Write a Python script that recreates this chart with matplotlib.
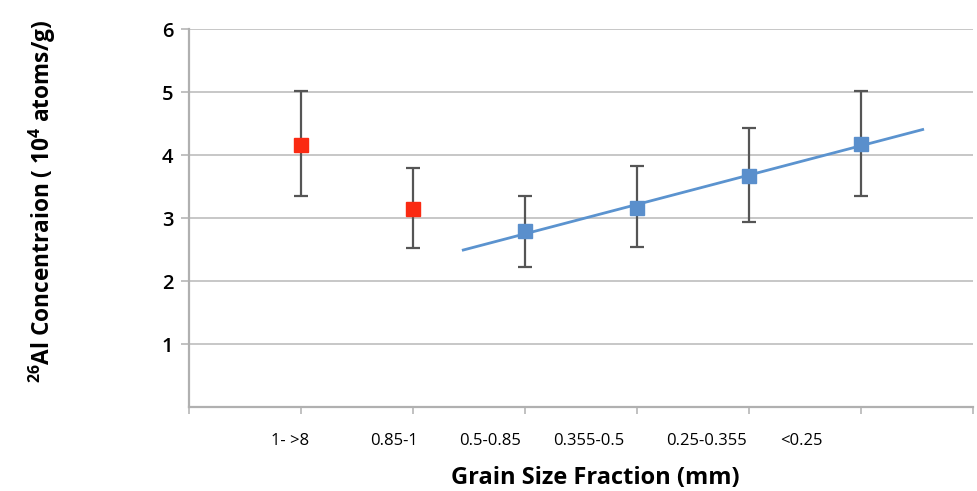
import numpy as np
import matplotlib
matplotlib.use("Agg")
import matplotlib.pyplot as plt

plt.rcParams['font.family'] = ['Open Sans', 'DejaVu Sans']
plt.rcParams['mathtext.default'] = 'regular'

# categories (grain size fractions, mm)
sizeLabels = ["1- >8", "0.85-1", "0.5-0.85", "0.355-0.5", "0.25-0.355", "<0.25"]

# coarse fractions (red)
redX = [1, 2]
redY = [4.16, 3.14]
redLow = [3.35, 2.53]
redHigh = [5.02, 3.80]

# finer fractions (blue)
blueX = [3, 4, 5, 6]
blueY = [2.79, 3.17, 3.67, 4.18]
blueLow = [2.23, 2.55, 2.94, 3.35]
blueHigh = [3.35, 3.83, 4.43, 5.02]

# Excel puts the category text left of the tick, these are the shifts
labelShift = [-0.10, -0.17, -0.31, -0.43, -0.38, -0.53]

fig = plt.figure(figsize=(9.78, 4.91), dpi=100)
ax = fig.add_axes([0.193, 0.171, 0.802, 0.769])

gridCol = "#b8b8b8"
for v in range(1, 7):
	ax.axhline(v, color=gridCol, lw=1.1, zorder=0)

errCol = "#555555"
ax.errorbar(redX, redY,
	yerr=[np.array(redY) - np.array(redLow), np.array(redHigh) - np.array(redY)],
	fmt="none", ecolor=errCol, elinewidth=1.6, capsize=5, capthick=1.6, zorder=2)
ax.errorbar(blueX, blueY,
	yerr=[np.array(blueY) - np.array(blueLow), np.array(blueHigh) - np.array(blueY)],
	fmt="none", ecolor=errCol, elinewidth=1.6, capsize=5, capthick=1.6, zorder=2)

# linear trendline on the fine fractions, extended half a category each way
k, b = np.polyfit(blueX, blueY, 1)
tx = np.array([blueX[0] - 0.55, blueX[-1] + 0.55])
ax.plot(tx, k * tx + b, color="#5b93cf", lw=2.0, zorder=3)

ax.plot(redX, redY, "s", color="#fa2a12", ms=10, mec="#fa2a12", zorder=4)
ax.plot(blueX, blueY, "s", color="#5a8fcc", ms=10, mec="#5a8fcc", zorder=4)

ax.set_xlim(0, 7)
ax.set_ylim(0, 6)
ax.set_yticks([1, 2, 3, 4, 5, 6])
ax.set_xticks([0, 1, 2, 3, 4, 5, 6, 7])
ax.set_xticklabels([])
ax.set_xticks([i + 1 + s for i, s in enumerate(labelShift)], minor=True)
ax.set_xticklabels(sizeLabels, minor=True)
ax.tick_params(axis="x", which="major", length=5, width=1.1, color="#b0b0b0", direction="out")
ax.tick_params(axis="x", which="minor", length=0, pad=19, labelsize=12)
ax.tick_params(axis="y", length=6, width=1.1, color="#b0b0b0", direction="out", labelsize=14.5, pad=5)
for t in ax.get_yticklabels():
	t.set_fontweight("semibold")

for s in ["top", "right"]:
	ax.spines[s].set_visible(False)
ax.spines["left"].set_color("#b0b0b0")
ax.spines["bottom"].set_color("#b0b0b0")
ax.spines["left"].set_linewidth(1.6)
ax.spines["bottom"].set_linewidth(1.6)

fig.text(0.609, 0.026, "Grain Size Fraction (mm)", fontsize=17, fontweight="bold",
	ha="center", va="center")
fig.text(0.043, 0.59, r"$^{26}$Al Concentraion ( 10$^{4}$ atoms/g)", rotation=90,
	fontsize=16.3, fontweight="bold", ha="center", va="center")

fig.savefig("out.png", dpi=100)
